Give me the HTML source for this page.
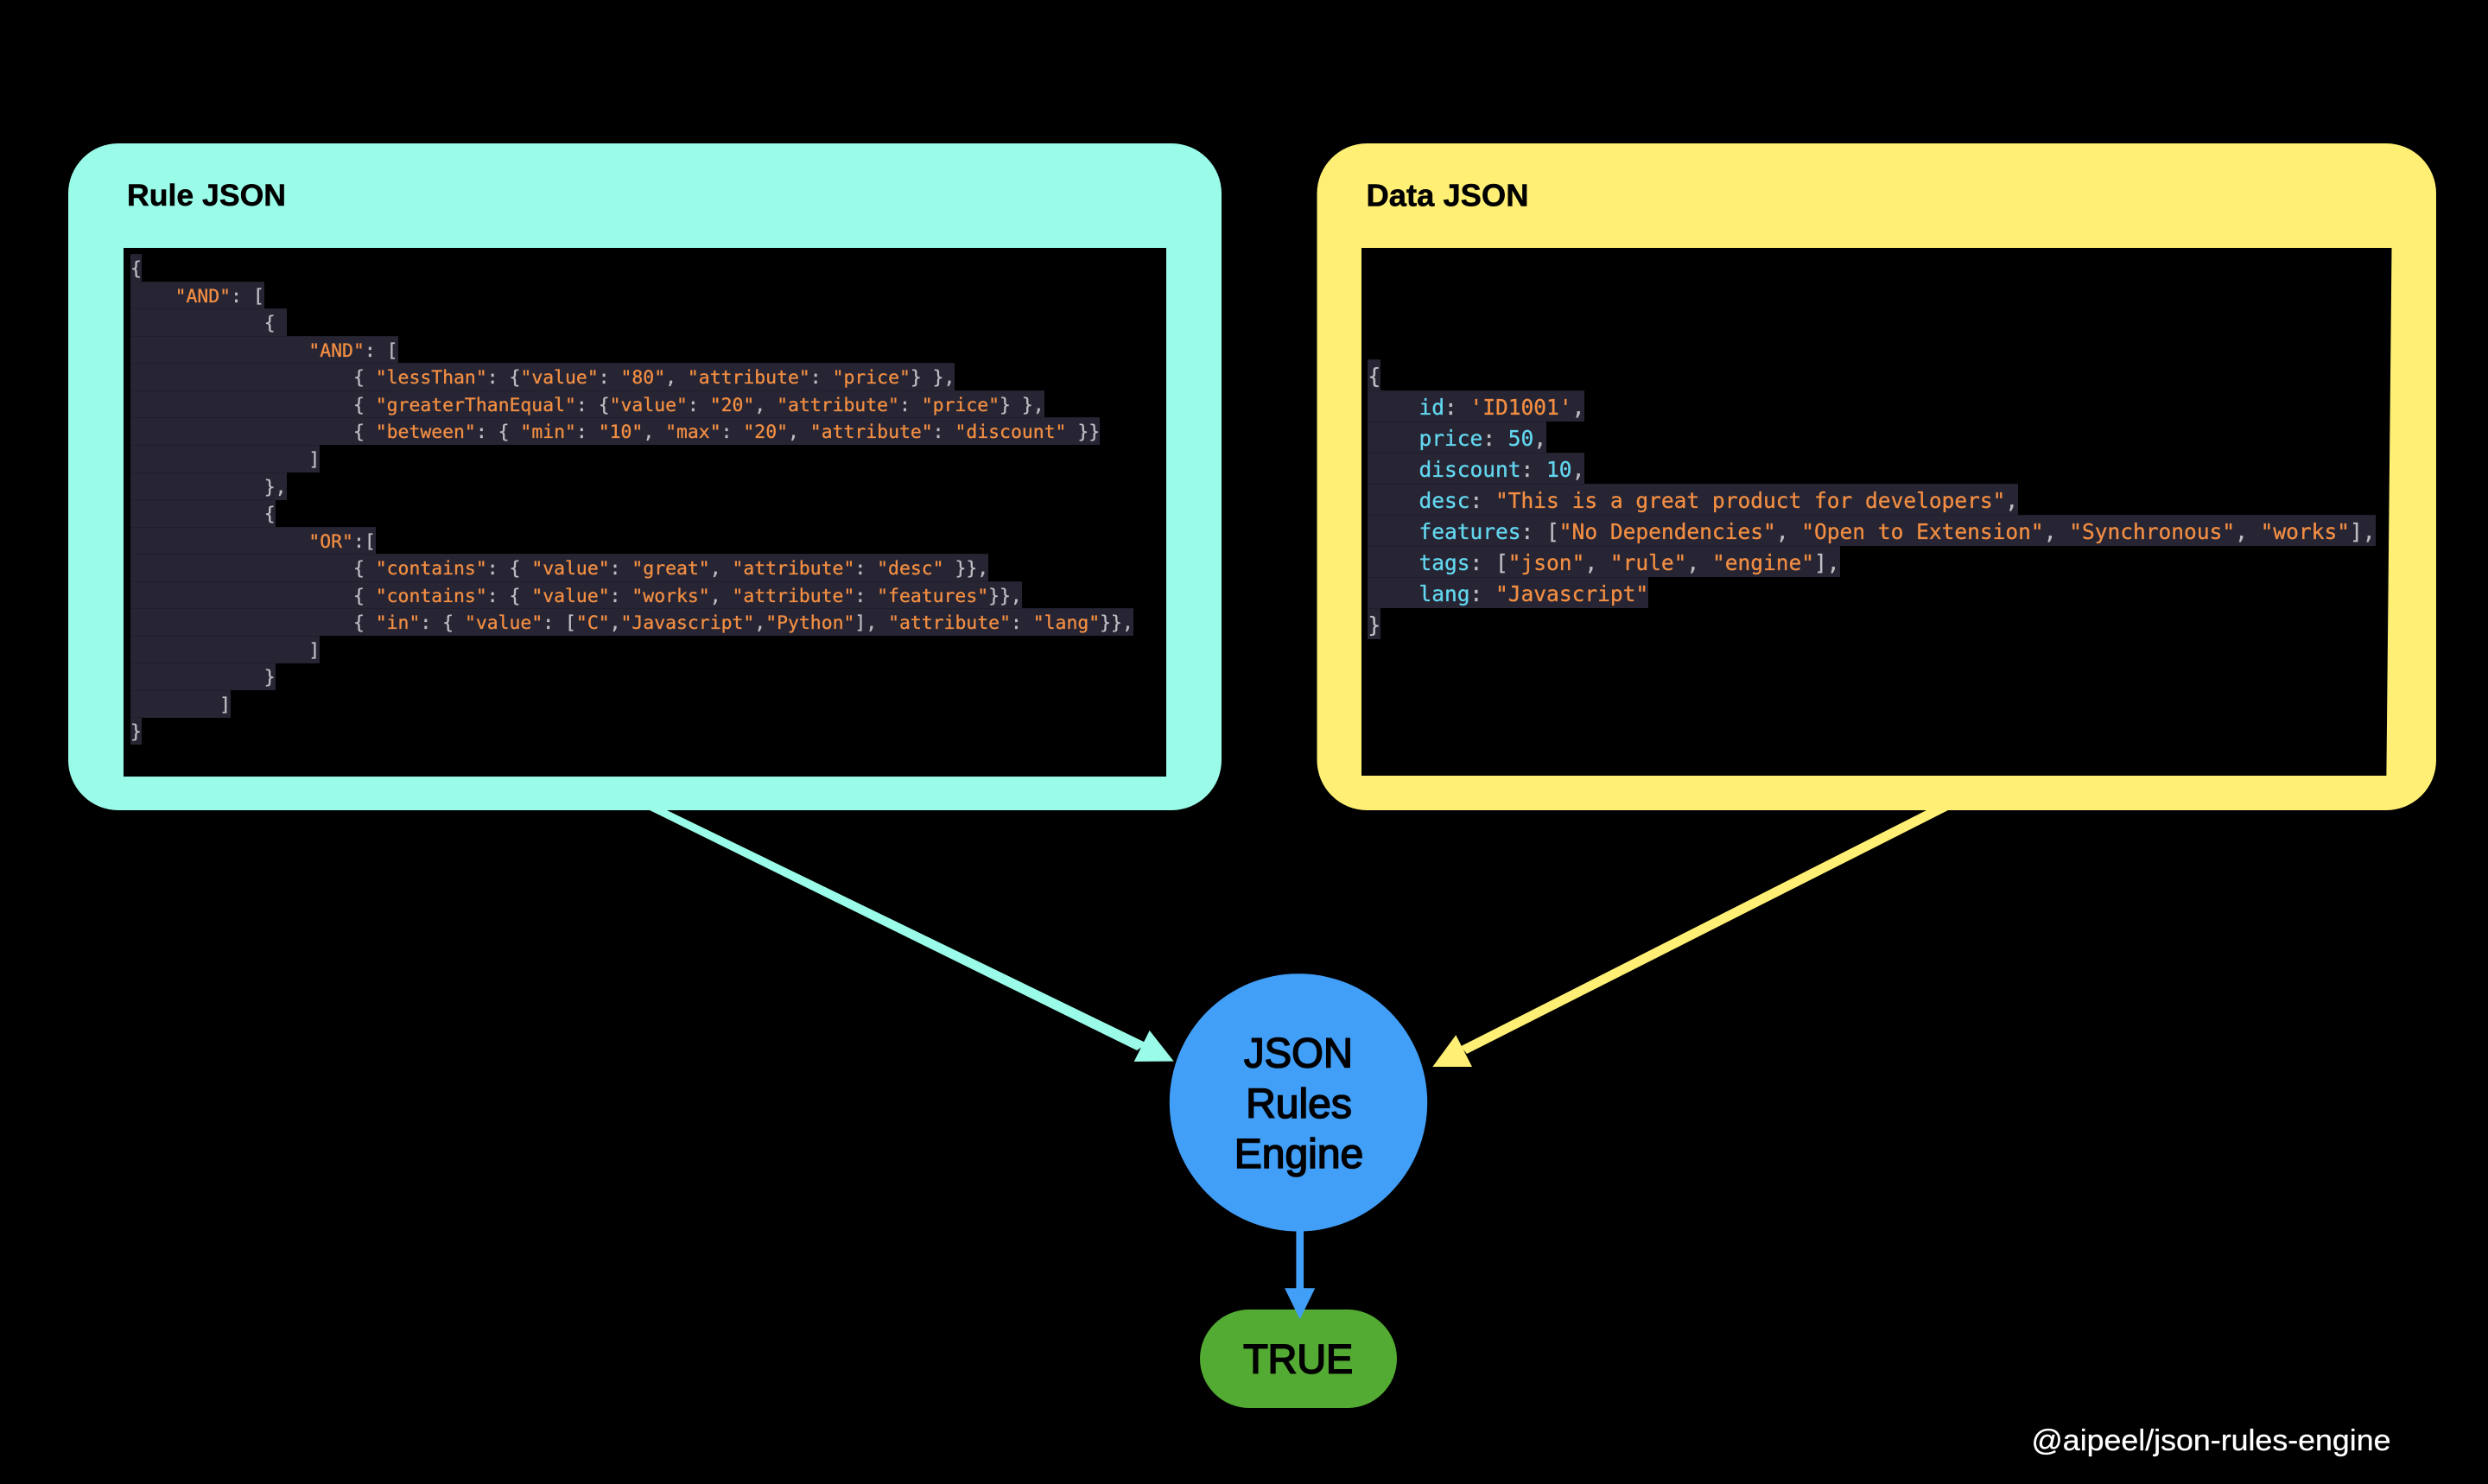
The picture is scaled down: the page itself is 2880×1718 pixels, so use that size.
<!DOCTYPE html>
<html><head><meta charset="utf-8">
<style>
html,body{margin:0;padding:0;background:#000;width:2880px;height:1718px;overflow:hidden}
svg{position:absolute;left:0;top:0}
.r,.d{position:absolute;white-space:pre;font-family:"DejaVu Sans Mono","Liberation Mono",monospace;background:#272534;color:#bdbdc2;box-shadow:inset 0 1px #201f2c;-webkit-text-stroke:0.3px currentColor}
.r{left:151px;height:32px;font-size:21.43px;line-height:35px}
.d{left:1583.4px;height:36px;font-size:24.53px;line-height:40.3px}
i{font-style:normal;color:#f28e42}
b{font-weight:normal;color:#62d6ee}
</style></head><body>
<svg width="2880" height="1718" viewBox="0 0 2880 1718" xmlns="http://www.w3.org/2000/svg">
<rect width="2880" height="1718" fill="#000"/>
<rect x="79" y="166" width="1335" height="772" rx="58" fill="#99FBE8"/>
<rect x="143" y="287" width="1207" height="612" fill="#000"/>
<rect x="1524.5" y="166" width="1295.5" height="772" rx="58" fill="#FFF075"/>
<polygon points="1576,287 2768.5,287 2762.4,898 1576,898" fill="#000"/>
<polygon points="752,938 772,938 1328,1208 1316,1216" fill="#99FBE8"/>
<polygon points="1330.7,1193 1358.7,1228.6 1312.7,1229" fill="#99FBE8"/>
<polygon points="2230,938 2255,938 1698,1220 1690.7,1211.4" fill="#FFF075"/>
<polygon points="1685.3,1198.2 1704,1235 1658.3,1235" fill="#FFF075"/>
<rect x="1389" y="1516" width="228" height="114" rx="57" fill="#53AB33"/>
<circle cx="1503" cy="1276.4" r="149.2" fill="#429FF8"/>
<rect x="1500.4" y="1420" width="8.7" height="72" fill="#429FF8"/>
<polygon points="1487,1491.3 1522.3,1491.3 1504.7,1527.3" fill="#429FF8"/>
<g font-family="'Liberation Sans',sans-serif" fill="#000">
<text x="147" y="238" font-size="35.3" font-weight="700" stroke="#000" stroke-width="0.5" textLength="184" lengthAdjust="spacingAndGlyphs">Rule JSON</text>
<text x="1581.5" y="238.5" font-size="36" font-weight="700" stroke="#000" stroke-width="0.5" textLength="188" lengthAdjust="spacingAndGlyphs">Data JSON</text>
<g font-size="48" text-anchor="middle" stroke="#000" stroke-width="1.6">
<text x="1503" y="1235.5" textLength="126" lengthAdjust="spacingAndGlyphs">JSON</text>
<text x="1503.5" y="1294">Rules</text>
<text x="1503.5" y="1352">Engine</text>
<text x="1502.7" y="1589.3" font-size="47" stroke-width="1.8" textLength="127" lengthAdjust="spacingAndGlyphs">TRUE</text>
</g>
</g>
<text x="2351.5" y="1679" font-family="'Liberation Sans',sans-serif" font-size="34" fill="#fff" stroke="#fff" stroke-width="0.3" textLength="416" lengthAdjust="spacingAndGlyphs">@aipeel/json-rules-engine</text>
</svg>

<div class="r" style="top:294.3px">{</div>
<div class="r" style="top:325.8px">    <i>"AND"</i>: [</div>
<div class="r" style="top:357.3px">            { </div>
<div class="r" style="top:388.9px">                <i>"AND"</i>: [</div>
<div class="r" style="top:420.4px">                    { <i>"lessThan"</i>: {<i>"value"</i>: <i>"80"</i>, <i>"attribute"</i>: <i>"price"</i>} },</div>
<div class="r" style="top:451.9px">                    { <i>"greaterThanEqual"</i>: {<i>"value"</i>: <i>"20"</i>, <i>"attribute"</i>: <i>"price"</i>} },</div>
<div class="r" style="top:483.4px">                    { <i>"between"</i>: { <i>"min"</i>: <i>"10"</i>, <i>"max"</i>: <i>"20"</i>, <i>"attribute"</i>: <i>"discount"</i> }}</div>
<div class="r" style="top:514.9px">                ]</div>
<div class="r" style="top:546.5px">            },</div>
<div class="r" style="top:578px">            {</div>
<div class="r" style="top:609.5px">                <i>"OR"</i>:[</div>
<div class="r" style="top:641px">                    { <i>"contains"</i>: { <i>"value"</i>: <i>"great"</i>, <i>"attribute"</i>: <i>"desc"</i> }},</div>
<div class="r" style="top:672.5px">                    { <i>"contains"</i>: { <i>"value"</i>: <i>"works"</i>, <i>"attribute"</i>: <i>"features"</i>}},</div>
<div class="r" style="top:704.1px">                    { <i>"in"</i>: { <i>"value"</i>: [<i>"C"</i>,<i>"Javascript"</i>,<i>"Python"</i>], <i>"attribute"</i>: <i>"lang"</i>}},</div>
<div class="r" style="top:735.6px">                ]</div>
<div class="r" style="top:767.1px">            }</div>
<div class="r" style="top:798.6px">        ]</div>
<div class="r" style="top:830.1px;height:31.6px">}</div>

<div class="d" style="top:416px">{</div>
<div class="d" style="top:452px">    <b>id</b>: <i>'ID1001'</i>,</div>
<div class="d" style="top:488px">    <b>price</b>: <b>50</b>,</div>
<div class="d" style="top:524px">    <b>discount</b>: <b>10</b>,</div>
<div class="d" style="top:560px">    <b>desc</b>: <i>"This is a great product for developers"</i>,</div>
<div class="d" style="top:596px">    <b>features</b>: [<i>"No Dependencies"</i>, <i>"Open to Extension"</i>, <i>"Synchronous"</i>, <i>"works"</i>],</div>
<div class="d" style="top:632px">    <b>tags</b>: [<i>"json"</i>, <i>"rule"</i>, <i>"engine"</i>],</div>
<div class="d" style="top:668px">    <b>lang</b>: <i>"Javascript"</i></div>
<div class="d" style="top:704px">}</div>
</body></html>
